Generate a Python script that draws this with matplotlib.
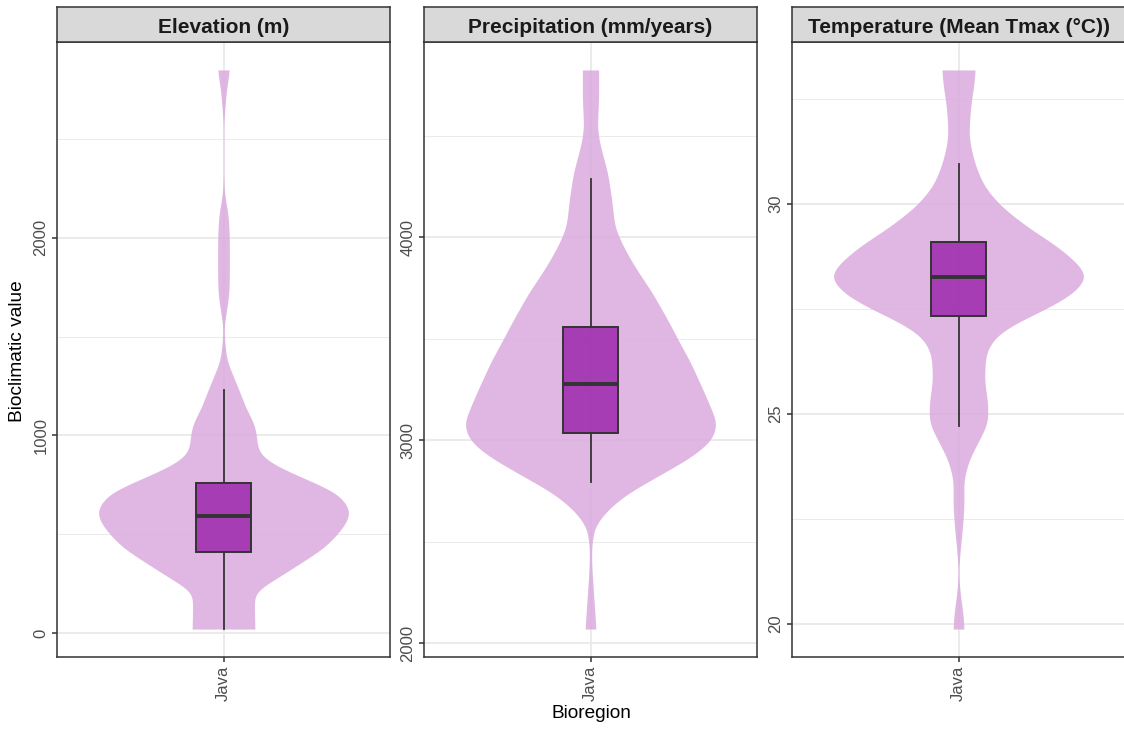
import matplotlib
matplotlib.use("Agg")
import matplotlib.pyplot as plt
import numpy as np

plt.rcParams['font.family'] = ['Liberation Sans', 'DejaVu Sans']

# ---------------- data ----------------
panel_titles = ["Elevation (m)", "Precipitation (mm/years)", "Temperature (Mean Tmax (°C))"]
category = ["Java"]

# violin outline: value and relative width (1 = widest point)
elev_vals = [20, 167, 218, 234, 336, 437, 538, 614, 707, 775, 842, 893, 943, 999, 1062, 1129,
             1215, 1298, 1382, 1467, 1551, 1620, 1700, 1753, 1889, 2025, 2127, 2209, 2285,
             2582, 2648, 2734, 2850]
elev_w = [0.245, 0.24, 0.24, 0.31, 0.56, 0.80, 0.94, 1.0, 0.90, 0.66, 0.42, 0.29, 0.26, 0.26,
          0.24, 0.18, 0.13, 0.077, 0.024, 0.01, 0.003, 0.02, 0.04, 0.045, 0.046, 0.045, 0.035,
          0.01, 0.002, 0.002, 0.01, 0.02, 0.047]

prec_vals = [2069, 2245, 2376, 2474, 2573, 2655, 2737, 2836, 2918, 3000, 3082, 3230, 3312,
             3394, 3460, 3591, 3723, 3854, 3952, 4051, 4182, 4315, 4413, 4478, 4543, 4675, 4824]
prec_w = [0.043, 0.024, 0.01, 0.008, 0.03, 0.13, 0.29, 0.57, 0.80, 0.96, 1.0, 0.90, 0.84,
          0.78, 0.72, 0.61, 0.49, 0.35, 0.26, 0.19, 0.168, 0.136, 0.093, 0.067, 0.053, 0.064, 0.064]

temp_vals = [19.88, 20.25, 20.73, 21.12, 21.36, 21.76, 22.32, 22.87, 23.43, 23.9, 24.38, 24.78,
             25.25, 25.81, 26.44, 26.84, 27.16, 27.55, 27.87, 28.27, 28.59, 28.98, 29.46, 29.94,
             30.41, 30.89, 31.36, 31.68, 32.32, 32.79, 33.19]
temp_w = [0.043, 0.035, 0.013, 0.002, 0.003, 0.013, 0.032, 0.043, 0.04, 0.08, 0.16, 0.227,
          0.227, 0.2, 0.21, 0.28, 0.44, 0.71, 0.89, 1.0, 0.92, 0.77, 0.53, 0.33, 0.2, 0.133,
          0.093, 0.08, 0.093, 0.117, 0.13]

# box statistics: whisker low, Q1, median, Q3, whisker high
elev_box = [20, 412, 594, 758, 1230]
prec_box = [2795, 3036, 3276, 3555, 4289]
temp_box = [24.71, 27.33, 28.27, 29.09, 30.94]

elev_ticks = [0, 1000, 2000]
prec_ticks = [2000, 3000, 4000]
temp_ticks = [20, 25, 30]

panels = [
    (elev_vals, elev_w, elev_box, elev_ticks),
    (prec_vals, prec_w, prec_box, prec_ticks),
    (temp_vals, temp_w, temp_box, temp_ticks),
]


def smooth_outline(vals, w, n=600, sigma_frac=0.012):
    """Resample the read-off outline densely and soften its corners."""
    v = np.linspace(vals.min(), vals.max(), n)
    ww = np.interp(v, vals, w)
    sig = sigma_frac * n
    k = np.arange(-int(4 * sig), int(4 * sig) + 1)
    kern = np.exp(-0.5 * (k / sig) ** 2)
    kern /= kern.sum()
    pad = len(k) // 2
    ww = np.convolve(np.pad(ww, pad, mode='edge'), kern, mode='valid')
    ww = ww / ww.max()
    return v, ww


# ---------------- figure ----------------
W, H = 1124, 729
fig = plt.figure(figsize=(W / 100, H / 100), dpi=100)

panel_left_px = [57, 424, 792]
panel_w_px = 333
panel_top_px, panel_bot_px = 42, 657
strip_top_px = 7

violin_col = (219 / 255, 173 / 255, 223 / 255)
box_face = (154 / 255, 34 / 255, 171 / 255, 0.82)
dark = '#333333'

for i, (vals, wrel, box, ticks) in enumerate(panels):
    lx = panel_left_px[i] / W
    ax = fig.add_axes([lx, (H - panel_bot_px) / H, panel_w_px / W,
                       (panel_bot_px - panel_top_px) / H])
    vals = np.asarray(vals, float)
    wrel = np.asarray(wrel, float)
    vmin, vmax = vals.min(), vals.max()
    rng = vmax - vmin
    ax.set_ylim(vmin - 0.05 * rng, vmax + 0.05 * rng)
    ax.set_xlim(0.4, 1.6)

    # grid
    step = ticks[1] - ticks[0]
    lo, hi = ax.get_ylim()
    minor = [t + step / 2 for t in [ticks[0] - step] + ticks]
    minor = [m for m in minor if lo < m < hi]
    for m in minor:
        ax.axhline(m, color='#EBEBEB', lw=0.7, zorder=0)
    for t in ticks:
        ax.axhline(t, color='#EBEBEB', lw=1.4, zorder=0)
    ax.axvline(1, color='#EBEBEB', lw=1.4, zorder=0)

    # violin
    sv, sw = smooth_outline(vals, wrel)
    ax.fill_betweenx(sv, 1 - 0.45 * sw, 1 + 0.45 * sw, color=violin_col,
                     alpha=0.88, lw=0, zorder=1)

    # box
    stats = [dict(whislo=box[0], q1=box[1], med=box[2], q3=box[3], whishi=box[4], fliers=[])]
    ax.bxp(stats, positions=[1], widths=0.2, patch_artist=True, showcaps=False,
           showfliers=False, manage_ticks=False,
           boxprops=dict(facecolor=box_face, edgecolor=dark, linewidth=1.4),
           medianprops=dict(color=dark, linewidth=2.8, solid_capstyle='butt'),
           whiskerprops=dict(color=dark, linewidth=1.3), zorder=2)

    ax.set_xticks([1])
    ax.set_xticklabels(category, rotation=90)
    ax.set_yticks(ticks)
    ax.set_yticklabels([str(t) for t in ticks])
    for lab in ax.get_yticklabels():
        lab.set_rotation(90)
        lab.set_va('center')
        lab.set_ha('right')
    ax.tick_params(axis='both', length=3.6, width=1.1, color=dark, labelcolor='#4D4D4D',
                   labelsize=12, pad=2.5)
    for sp in ax.spines.values():
        sp.set_color(dark)
        sp.set_linewidth(1.1)
    ax.set_facecolor('white')

    # strip
    sax = fig.add_axes([lx, (H - panel_top_px) / H, panel_w_px / W,
                        (panel_top_px - strip_top_px) / H])
    sax.set_facecolor('#D9D9D9')
    sax.set_xticks([])
    sax.set_yticks([])
    for sp in sax.spines.values():
        sp.set_color(dark)
        sp.set_linewidth(1.1)
    sax.text(0.5, 0.42, panel_titles[i], transform=sax.transAxes, ha='center', va='center',
             fontsize=15, fontweight='bold', color='#1A1A1A')

fig.text(18 / W, 1 - 351 / H, "Bioclimatic value", rotation=90, ha='center', va='center',
         fontsize=13.8, color='black')
fig.text(591 / W, 1 - 714 / H, "Bioregion", ha='center', va='center', fontsize=13.7,
         color='black')

fig.savefig("out.png", dpi=100)
